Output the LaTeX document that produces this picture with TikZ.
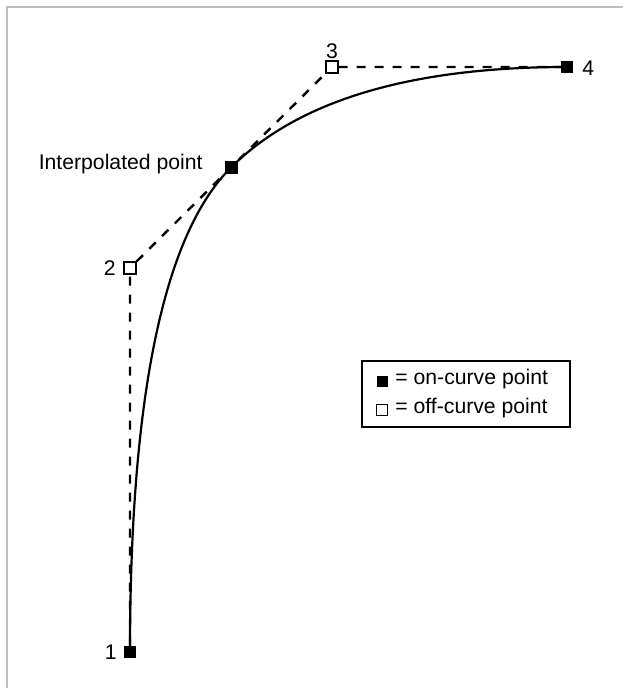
\documentclass[tikz,border=0pt]{standalone}
\usepackage{fontspec}
\setmainfont{Liberation Sans}
\usetikzlibrary{calc}
\begin{document}
\begin{tikzpicture}[x=0.5pt,y=-0.5pt,
  every node/.append style={font=\fontsize{10.6}{12.5}\selectfont},
  onpt/.style={rectangle,fill=black,inner sep=0pt,minimum size=6pt},
  bigpt/.style={rectangle,fill=black,inner sep=0pt,minimum size=6.5pt},
  offpt/.style={rectangle,draw=black,fill=white,line width=0.55pt,inner sep=0pt,minimum size=6pt},
  ctrl/.style={line width=1.2pt,dash pattern=on 4.5pt off 4.5pt},
  crv/.style={line width=1.1pt},
  lbl/.style={inner sep=0pt}]
\useasboundingbox (0,0) rectangle (623,688);
\draw[line width=1.1pt,color={rgb,255:red,190;green,190;blue,190}] (7,688) -- (7,7) -- (623,7);
% points
\node[onpt] (p1) at (130,652) {};
\node[offpt] (p2) at (130,268) {};
\node[offpt] (p3) at (332,67) {};
\node[onpt] (p4) at (567,67) {};
\coordinate (m) at ($(p2.center)!0.5!(p3.center)$);
% control polygon
\draw[ctrl] (p1) -- (p2) -- (p3) -- (p4);
% curve
\draw[crv] (p1.center) .. controls ($(p1.center)!0.6667!(p2.center)$) and ($(m)!0.6667!(p2.center)$) .. (m)
  .. controls ($(m)!0.6667!(p3.center)$) and ($(p4.center)!0.6667!(p3.center)$) .. (p4.center);
\node[bigpt] (pi) at (m) {};
\node[onpt] at (p1) {};
\node[onpt] at (p4) {};
\node[offpt] at (p2) {};
\node[offpt] at (p3) {};
% labels
\node[lbl,anchor=east] (l1) at (117,652) {1};
\node[lbl,anchor=east] (l2) at (116,268) {2};
\node[lbl] (l3) at (332,51) {3};
\node[lbl,anchor=west] (l4) at (582,68) {4};
\node[lbl,anchor=east] (li) at (203,164) {Interpolated point};
% legend
\node[draw=black,line width=1pt,minimum width=104pt,minimum height=33pt,inner sep=0pt] (leg) at (466,394) {};
\node[onpt,minimum size=5.5pt] (ls1) at (382,381) {};
\node[offpt,minimum size=5.5pt] (ls2) at (382,410) {};
\node[lbl,anchor=west] (lt1) at (395,379) {= on-curve point};
\node[lbl,anchor=west] (lt2) at (395,408) {= off-curve point};
\end{tikzpicture}
\end{document}
